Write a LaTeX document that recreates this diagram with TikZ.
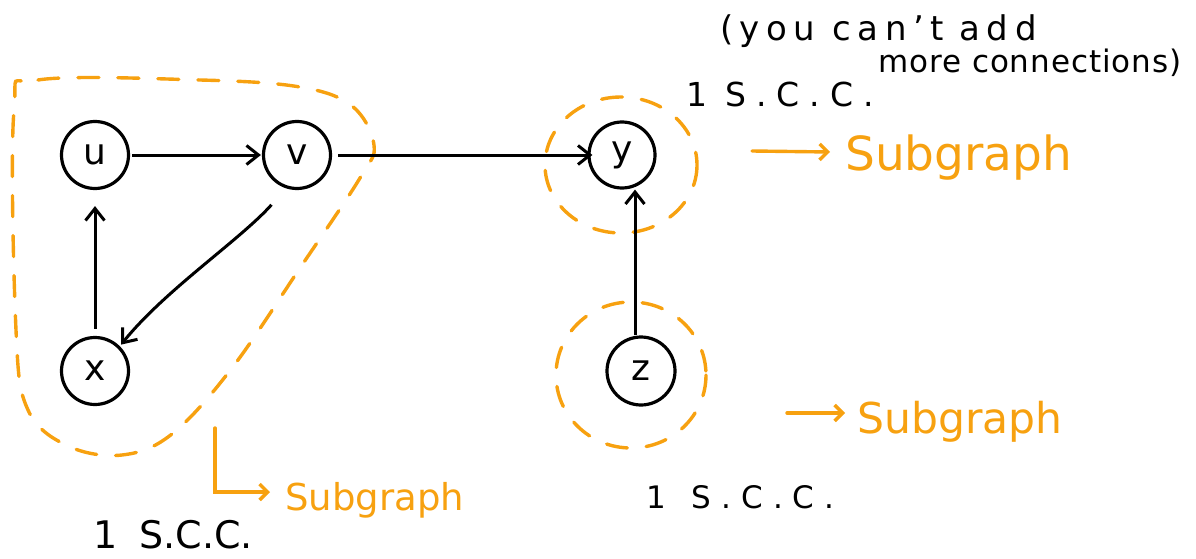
\documentclass[tikz,border=0pt]{standalone}
\usepackage{fontspec}
\setmainfont{DejaVu Sans}
\usetikzlibrary{arrows.meta,shapes.geometric}
\definecolor{marker}{RGB}{247,161,16}
% spaced-out "S.C.C." abbreviation
\newcommand{\sccword}[1]{S\kern#1.\kern#1C\kern#1.\kern#1C\kern#1.}
\tikzset{
  vertex/.style={draw=black, line width=3.2pt, circle, minimum size=67pt, inner sep=0pt, font=\fontsize{36}{36}\selectfont},
  edge/.style={line width=3pt, -{Straight Barb[length=12pt,width=19pt,line width=3pt]}},
  group/.style={draw=marker, line width=3.4pt, dash pattern=on 21pt off 19pt, line cap=round},
  pointer/.style={draw=marker, line width=3.4pt, line cap=round, -{Straight Barb[length=8pt,width=16pt,line width=3.4pt]}},
  note/.style={inner sep=0pt, anchor=base west, text=black},
  tag/.style={inner sep=0pt, anchor=base west, text=marker},
}
\begin{document}
\begin{tikzpicture}[x=1pt,y=-1pt]
\useasboundingbox (0,0) rectangle (1196,559);

% component outlines
\draw[group] plot[smooth cycle, tension=0.6] coordinates {
  (14,110) (38,80) (200,80) (300,87) (352,106) (374,145) (360,178)
  (300,268) (232,368) (172,434) (122,455) (68,446) (28,410) (16,330)};
\draw[group] (621,165) ellipse [x radius=76, y radius=68];
\draw[group] (631,375) ellipse [x radius=75, y radius=73];

% vertices
\node[vertex] (u) at (95,155) {u};
\node[vertex] (v) at (297,155) {v};
\node[vertex] (x) at (95,371) {x};
\node[vertex, minimum size=66pt] (y) at (622,155) {y};
\node[vertex, minimum size=68pt] (z) at (641,371) {z};

% edges
\draw[edge, shorten <=2pt, shorten >=1pt] (u) -- (v);
\draw[edge, shorten <=6pt, shorten >=-5pt] (v) -- (y);
\draw[edge, shorten <=22pt, shorten >=2pt] (v.252) .. controls (240,240) and (165,290) .. (x.45);
\draw[edge, shorten <=7pt, shorten >=16pt] (x) -- (u);
\draw[edge] ([xshift=-6pt]z.north) -- ([xshift=13pt]y.south);

% annotations
\node[note, font=\fontsize{34}{34}\selectfont\addfontfeature{LetterSpace=19}] (remark1) at (720,41) {(you can't\hspace{16pt}add};
\node[note, font=\fontsize{31}{31}\selectfont\addfontfeature{LetterSpace=3}] (remark2) at (878,73) {more connections)};
\node[note, font=\fontsize{33}{33}\selectfont] (scc1) at (686,107) {1\hspace{18pt}\sccword{10pt}};
\node[note, font=\fontsize{31}{31}\selectfont] (scc3) at (646,508) {1\hspace{26pt}\sccword{10pt}};
\node[note, font=\fontsize{38}{38}\selectfont] (scc2) at (93,548) {1\hspace{22pt}\sccword{0pt}};

\node[tag, font=\fontsize{47}{47}\selectfont] (sg1) at (845,170) {Subgraph};
\node[tag, font=\fontsize{42.5}{42.5}\selectfont] (sg2) at (857,433) {Subgraph};
\node[tag, font=\fontsize{37}{37}\selectfont] (sg3) at (285,510) {Subgraph};

\coordinate (p1s) at (752,151);
\coordinate (p1e) at (830,152);
\coordinate (p2s) at (787,413);
\coordinate (p2e) at (845,413);
\coordinate (p3s) at (215,428);
\coordinate (p3e) at (270,492);
\draw[pointer] (p1s) -- (p1e);
\draw[pointer] (p2s) -- (p2e);
\draw[pointer] (p3s) |- (p3e);
\end{tikzpicture}
\end{document}
